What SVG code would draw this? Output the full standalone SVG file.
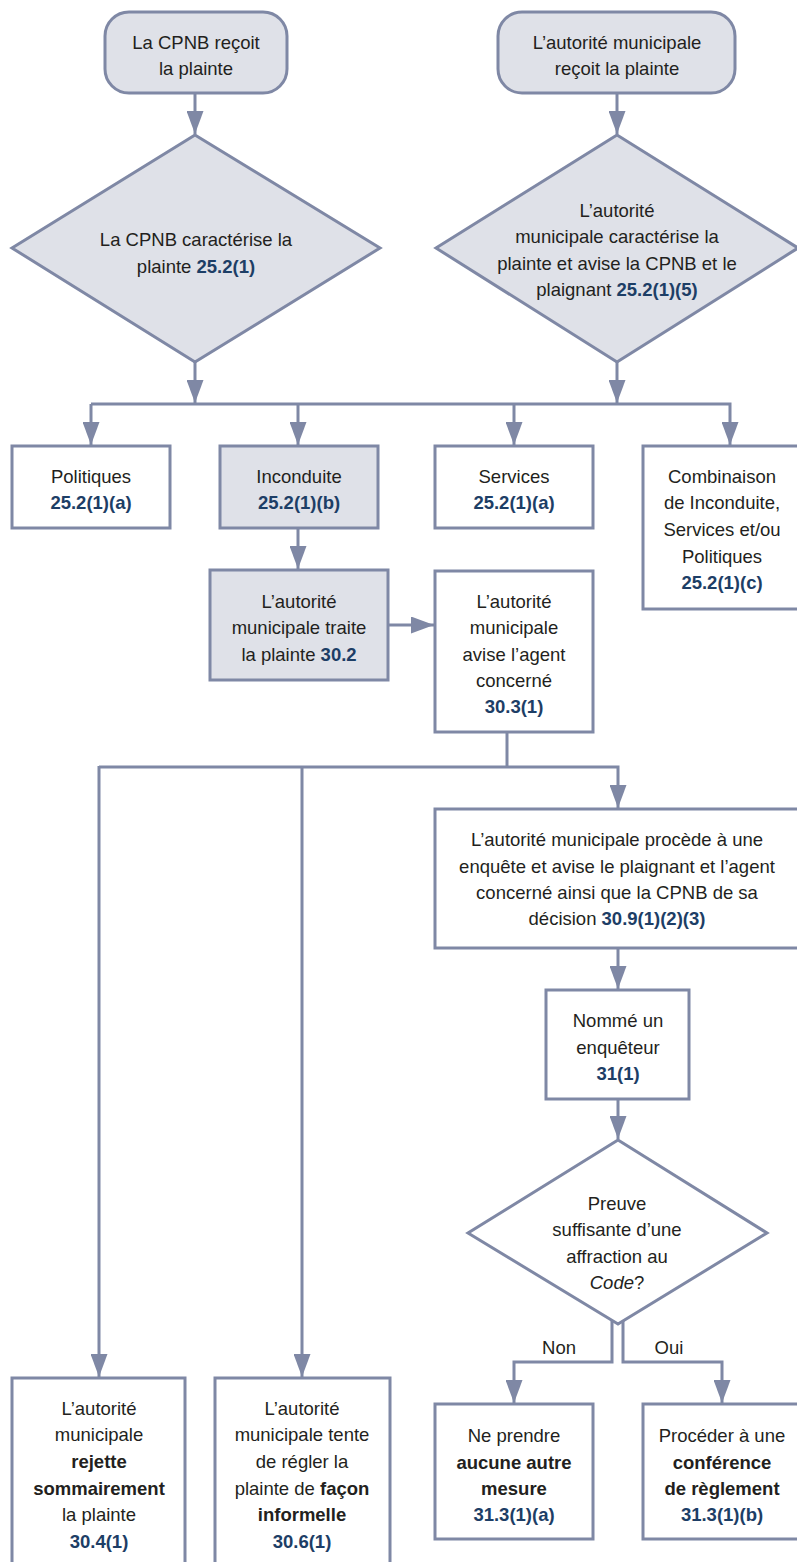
<svg xmlns="http://www.w3.org/2000/svg" width="797" height="1562" viewBox="0 0 797 1562">
<style>
.n{stroke:#7f88a5;stroke-width:3;}
.g{fill:#dfe1e8;}
.w{fill:#ffffff;}
.c{fill:none;stroke:#7f88a5;stroke-width:3;}
text{font-family:"Liberation Sans",Arial,sans-serif;font-size:18.5px;fill:#231f20;text-anchor:middle;}
.b{font-weight:bold;fill:#1d3e66;}
.k{font-weight:bold;}
.i{font-style:italic;}
</style>
<defs>
<marker id="ah" markerUnits="userSpaceOnUse" markerWidth="23" markerHeight="17" refX="23" refY="8.5" orient="auto">
<path d="M0,0 L23,8.5 L0,17 z" fill="#7f88a5"/>
</marker>
</defs>
<rect width="797" height="1562" fill="#ffffff"/>
<g id="connectors">
<line class="c" x1="195" y1="93" x2="195" y2="134" marker-end="url(#ah)"/>
<line class="c" x1="617" y1="93" x2="617" y2="134" marker-end="url(#ah)"/>
<line class="c" x1="195" y1="362" x2="195" y2="403" marker-end="url(#ah)"/>
<line class="c" x1="617" y1="362" x2="617" y2="403" marker-end="url(#ah)"/>
<path class="c" d="M91,404 H730 V445" marker-end="url(#ah)"/>
<line class="c" x1="91" y1="404" x2="91" y2="445" marker-end="url(#ah)"/>
<line class="c" x1="298" y1="404" x2="298" y2="445" marker-end="url(#ah)"/>
<line class="c" x1="514" y1="404" x2="514" y2="445" marker-end="url(#ah)"/>
<line class="c" x1="298" y1="528" x2="298" y2="569" marker-end="url(#ah)"/>
<line class="c" x1="388" y1="625" x2="434" y2="625" marker-end="url(#ah)"/>
<path class="c" d="M507,732 V767"/>
<path class="c" d="M99,767 H618 V808" marker-end="url(#ah)"/>
<line class="c" x1="99" y1="766" x2="99" y2="1377" marker-end="url(#ah)"/>
<line class="c" x1="302" y1="767" x2="302" y2="1377" marker-end="url(#ah)"/>
<line class="c" x1="618" y1="948" x2="618" y2="989" marker-end="url(#ah)"/>
<line class="c" x1="618" y1="1099" x2="618" y2="1139" marker-end="url(#ah)"/>
<path class="c" d="M612,1321 V1362 H514 V1403" marker-end="url(#ah)"/>
<path class="c" d="M623,1321 V1362 H722 V1403" marker-end="url(#ah)"/>
</g>
<g id="start-cpnb">
<rect class="n g" x="105" y="12" width="182" height="81" rx="24"/>
<text x="196" y="49">La CPNB reçoit</text>
<text x="196" y="75">la plainte</text>
</g>
<g id="start-municipal">
<rect class="n g" x="498" y="12" width="237" height="81" rx="24"/>
<text x="617" y="49">L’autorité municipale</text>
<text x="617" y="75">reçoit la plainte</text>
</g>
<g id="dec-cpnb">
<polygon class="n g" points="195,135 380,248 195,362 12,248"/>
<text x="196" y="246">La CPNB caractérise la</text>
<text x="196" y="273">plainte <tspan class="b">25.2(1)</tspan></text>
</g>
<g id="dec-municipal">
<polygon class="n g" points="617,135 798,248 617,362 436,248"/>
<text x="617" y="217">L’autorité</text>
<text x="617" y="243">municipale caractérise la</text>
<text x="617" y="270">plainte et avise la CPNB et le</text>
<text x="617" y="296">plaignant <tspan class="b">25.2(1)(5)</tspan></text>
</g>
<g id="politiques">
<rect class="n w" x="12" y="446" width="158" height="82"/>
<text x="91" y="483">Politiques</text>
<text x="91" y="509" class="b">25.2(1)(a)</text>
</g>
<g id="inconduite">
<rect class="n g" x="220" y="446" width="158" height="82"/>
<text x="299" y="483">Inconduite</text>
<text x="299" y="509" class="b">25.2(1)(b)</text>
</g>
<g id="services">
<rect class="n w" x="435" y="446" width="158" height="82"/>
<text x="514" y="483">Services</text>
<text x="514" y="509" class="b">25.2(1)(a)</text>
</g>
<g id="combinaison">
<rect class="n w" x="643" y="446" width="160" height="163"/>
<text x="722" y="483">Combinaison</text>
<text x="722" y="509">de Inconduite,</text>
<text x="722" y="536">Services et/ou</text>
<text x="722" y="563">Politiques</text>
<text x="722" y="589" class="b">25.2(1)(c)</text>
</g>
<g id="traite">
<rect class="n g" x="210" y="570" width="178" height="110"/>
<text x="299" y="608">L’autorité</text>
<text x="299" y="634">municipale traite</text>
<text x="299" y="661">la plainte <tspan class="b">30.2</tspan></text>
</g>
<g id="avise">
<rect class="n w" x="435" y="571" width="158" height="161"/>
<text x="514" y="608">L’autorité</text>
<text x="514" y="634">municipale</text>
<text x="514" y="661">avise l’agent</text>
<text x="514" y="687">concerné</text>
<text x="514" y="713" class="b">30.3(1)</text>
</g>
<g id="enquete">
<rect class="n w" x="435" y="809" width="368" height="139"/>
<text x="617" y="846">L’autorité municipale procède à une</text>
<text x="617" y="873">enquête et avise le plaignant et l’agent</text>
<text x="617" y="899">concerné ainsi que la CPNB de sa</text>
<text x="617" y="925">décision <tspan class="b">30.9(1)(2)(3)</tspan></text>
</g>
<g id="enqueteur">
<rect class="n w" x="546" y="990" width="143" height="109"/>
<text x="618" y="1027">Nommé un</text>
<text x="618" y="1054">enquêteur</text>
<text x="618" y="1080" class="b">31(1)</text>
</g>
<g id="preuve">
<polygon class="n w" points="618,1140 767,1233 618,1324 468,1233"/>
<text x="617" y="1210">Preuve</text>
<text x="617" y="1236">suffisante d’une</text>
<text x="617" y="1263">affraction au</text>
<text x="617" y="1289"><tspan class="i">Code</tspan>?</text>
</g>
<g id="labels">
<text x="559" y="1354">Non</text>
<text x="669" y="1354">Oui</text>
</g>
<g id="rejette">
<rect class="n w" x="12" y="1378" width="173" height="190"/>
<text x="99" y="1415">L’autorité</text>
<text x="99" y="1441">municipale</text>
<text x="99" y="1468" class="k">rejette</text>
<text x="99" y="1495" class="k">sommairement</text>
<text x="99" y="1521">la plainte</text>
<text x="99" y="1548" class="b">30.4(1)</text>
</g>
<g id="informelle">
<rect class="n w" x="215" y="1378" width="175" height="190"/>
<text x="302" y="1415">L’autorité</text>
<text x="302" y="1441">municipale tente</text>
<text x="302" y="1468">de régler la</text>
<text x="302" y="1495">plainte de <tspan class="k">façon</tspan></text>
<text x="302" y="1521" class="k">informelle</text>
<text x="302" y="1548" class="b">30.6(1)</text>
</g>
<g id="aucune">
<rect class="n w" x="435" y="1404" width="158" height="135"/>
<text x="514" y="1442">Ne prendre</text>
<text x="514" y="1469" class="k">aucune autre</text>
<text x="514" y="1495" class="k">mesure</text>
<text x="514" y="1521" class="b">31.3(1)(a)</text>
</g>
<g id="conference">
<rect class="n w" x="643" y="1404" width="160" height="135"/>
<text x="722" y="1442">Procéder à une</text>
<text x="722" y="1469" class="k">conférence</text>
<text x="722" y="1495" class="k">de règlement</text>
<text x="722" y="1521" class="b">31.3(1)(b)</text>
</g>
</svg>
